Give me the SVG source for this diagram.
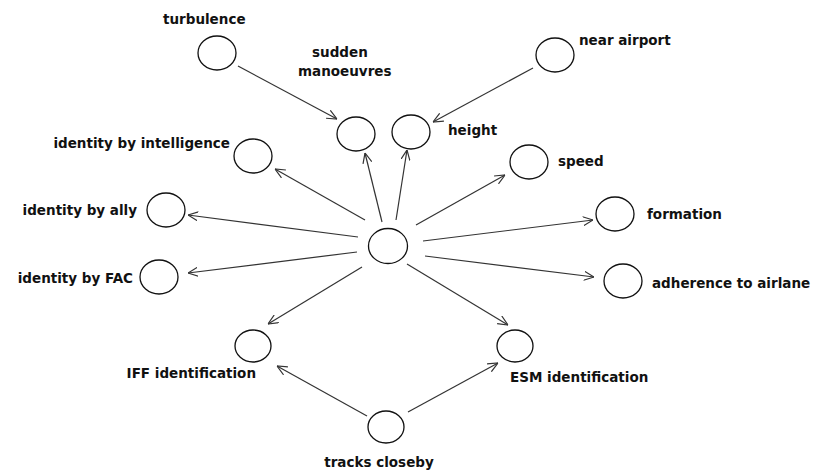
<svg xmlns="http://www.w3.org/2000/svg" width="828" height="470" viewBox="0 0 828 470">
<style>
.n{fill:#fff;stroke:#111;stroke-width:1.3}
.t{font-family:"DejaVu Sans",Verdana,sans-serif;font-weight:bold;font-size:13.5px;fill:#111}
.c line{stroke:#333;stroke-width:1.2;marker-end:url(#a)}
</style>
<defs>
<marker id="a" viewBox="0 0 10 10" refX="10" refY="5" markerWidth="10" markerHeight="10" markerUnits="userSpaceOnUse" orient="auto">
<path d="M0,0.5 L10,5 L0,9.5" fill="none" stroke="#333" stroke-width="1.2"/>
</marker>
</defs>
<rect width="828" height="470" fill="#fff"/>
<g id="connectors" class="c">
<line x1="238" y1="66" x2="337" y2="119"/>
<line x1="533" y1="68" x2="433" y2="122"/>
<line x1="382" y1="222" x2="365" y2="153"/>
<line x1="396" y1="220" x2="407" y2="150"/>
<line x1="365" y1="220" x2="275" y2="169"/>
<line x1="416" y1="225" x2="505" y2="175"/>
<line x1="358" y1="237" x2="188" y2="215"/>
<line x1="423" y1="241" x2="593" y2="220"/>
<line x1="357" y1="252" x2="188" y2="273"/>
<line x1="425" y1="256" x2="594" y2="277"/>
<line x1="362" y1="267" x2="268" y2="324"/>
<line x1="407" y1="264" x2="508" y2="325"/>
<line x1="367" y1="416" x2="277" y2="366"/>
<line x1="408" y1="412" x2="498" y2="363"/>
</g>
<g id="center"><ellipse class="n" cx="388" cy="246" rx="19.5" ry="17.5"/></g>
<g id="turbulence"><ellipse class="n" cx="217" cy="53" rx="19" ry="17"/><text class="t" x="163" y="24">turbulence</text></g>
<g id="sudden"><ellipse class="n" cx="356" cy="134" rx="19" ry="17"/><text class="t" x="312" y="57">sudden</text><text class="t" x="298" y="76">manoeuvres</text></g>
<g id="height"><ellipse class="n" cx="411" cy="132" rx="19" ry="17"/><text class="t" x="448" y="135">height</text></g>
<g id="near-airport"><ellipse class="n" cx="555" cy="55" rx="19" ry="17"/><text class="t" x="579" y="45">near airport</text></g>
<g id="intelligence"><ellipse class="n" cx="253" cy="156" rx="19" ry="17"/><text class="t" x="230" y="148" text-anchor="end">identity by intelligence</text></g>
<g id="speed"><ellipse class="n" cx="529" cy="162" rx="19" ry="17"/><text class="t" x="558" y="166">speed</text></g>
<g id="ally"><ellipse class="n" cx="166" cy="210" rx="19" ry="17"/><text class="t" x="137" y="215" text-anchor="end">identity by ally</text></g>
<g id="formation"><ellipse class="n" cx="615" cy="214" rx="19" ry="17"/><text class="t" x="647" y="219">formation</text></g>
<g id="fac"><ellipse class="n" cx="159" cy="277" rx="19" ry="17"/><text class="t" x="133" y="283" text-anchor="end">identity by FAC</text></g>
<g id="adherence"><ellipse class="n" cx="623" cy="281" rx="19" ry="17"/><text class="t" x="652" y="288">adherence to airlane</text></g>
<g id="iff"><ellipse class="n" cx="253" cy="346" rx="18" ry="16"/><text class="t" x="256" y="378" text-anchor="end">IFF identification</text></g>
<g id="esm"><ellipse class="n" cx="515" cy="346" rx="18" ry="16"/><text class="t" x="510" y="382">ESM identification</text></g>
<g id="tracks"><ellipse class="n" cx="386" cy="427" rx="18" ry="16"/><text class="t" x="379" y="467" text-anchor="middle">tracks closeby</text></g>
</svg>
